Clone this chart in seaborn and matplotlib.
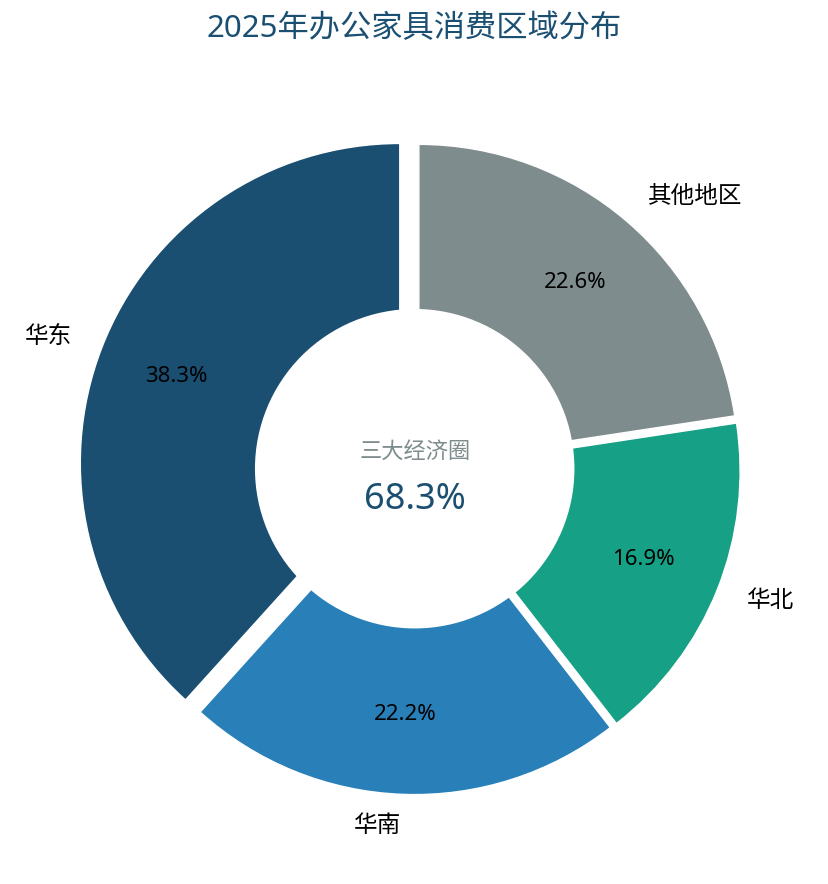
import matplotlib
matplotlib.use('Agg')
import matplotlib.pyplot as plt
import seaborn as sns
from matplotlib.patches import Circle

# ---- data ----
regions = ['华东', '华南', '华北', '其他地区']
shares = [38.3, 22.2, 16.9, 22.6]
colors = ['#1B4F72', '#2980B9', '#16A085', '#7F8C8D']
explode = [0.05, 0.02, 0.02, 0.02]
title = '2025年办公家具消费区域分布'
center_label = '三大经济圈'
center_value = '68.3%'

sns.set_theme(style='white')
plt.rcParams['font.family'] = ['Noto Sans', 'Noto Sans CJK SC', 'DejaVu Sans']

W, H = 829, 884
fig = plt.figure(figsize=(W / 100, H / 100), dpi=100)
fig.patch.set_facecolor('white')
R = 319.5
cx, cy = 414.7, 468.7
ax = fig.add_axes([0, 0, 1, 1])

palette = sns.color_palette(colors)
wedges, texts, autotexts = ax.pie(
    shares, labels=regions, colors=palette, explode=explode,
    startangle=90, counterclock=True, autopct='%1.1f%%',
    pctdistance=0.75, labeldistance=1.1, radius=1,
    wedgeprops=dict(edgecolor='white', linewidth=1),
    textprops=dict(fontsize=17, color='black'))
for t in autotexts:
    t.set_fontsize(16)
    t.set_color('black')

ax.add_patch(Circle((0, 0), 0.5, facecolor='white', edgecolor='none', zorder=3))
ax.text(0, (cy - 452) / R, center_label, ha='center', va='center',
        fontsize=16, color='#7F8C8D', zorder=4)
ax.text(0, (cy - 500) / R, center_value, ha='center', va='center',
        fontsize=26, color='#1B4F72', zorder=4)

ax.set_xlim(-cx / R, (W - cx) / R)
ax.set_ylim(-(H - cy) / R, cy / R)
ax.axis('off')

fig.text(414 / W, 1 - 29.5 / H, title, ha='center', va='center',
         fontsize=22.5, color='#1B4F72')

fig.savefig('out.png', dpi=100, facecolor='white')
